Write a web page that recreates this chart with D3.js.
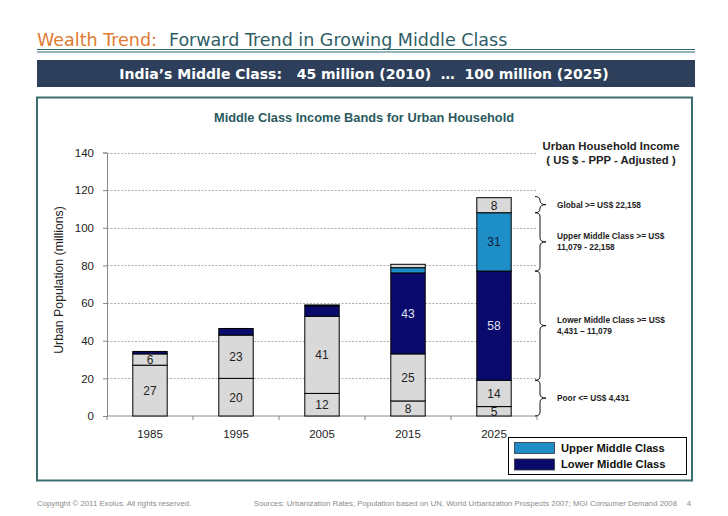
<!DOCTYPE html>
<html><head><meta charset="utf-8">
<script src="https://cdn.jsdelivr.net/npm/d3@7"></script>
<style>body{margin:0;background:#fff}svg{display:block}</style>
</head><body>
<script>
const years = ["1985","1995","2005","2015","2025"];
const poorLow = [27,20,12,8,5];
const poorHigh = [6,23,41,25,14];
const lowerMiddle = [1.3,3.5,5.6,43,58];
const upperMiddle = [0,0,0.4,2.8,31];
const global = [0,0,0,1.8,8];
const yTicks = [0,20,40,60,80,100,120,140];
const seriesKeys = ["poorLow","poorHigh","lowerMiddle","upperMiddle","global"];
const seriesData = {poorLow, poorHigh, lowerMiddle, upperMiddle, global};
const bands = [
  {from:108, to:116.6, lines:["Global >= US$ 22,158"]},
  {from:77, to:108, lines:["Upper Middle Class >= US$","11,079 - 22,158"]},
  {from:19, to:77, lines:["Lower Middle Class >= US$","4,431 \u2013 11,079"]},
  {from:0, to:19, lines:["Poor <= US$ 4,431"]}
];
const legendItems = [["upperMiddle","Upper Middle Class"],["lowerMiddle","Lower Middle Class"]];

const colors = {poorLow:"#D9D9D9", poorHigh:"#D9D9D9", lowerMiddle:"#0A0A6C", upperMiddle:"#1E8EC6", global:"#D9D9D9"};
const textColors = {poorLow:"#222", poorHigh:"#222", lowerMiddle:"#E0E4F0", upperMiddle:"#10183A", global:"#222"};

const W=728,H=516;
const svg=d3.select("body").append("svg").attr("width",W).attr("height",H);
const arial="'Liberation Sans', Arial, sans-serif";
const verd="'DejaVu Sans', Verdana, sans-serif";

// Header
const t=svg.append("text").attr("x",37).attr("y",46).attr("font-family",verd).attr("font-size",17.5);
t.append("tspan").attr("fill","#E07A30").text("Wealth Trend:");
t.append("tspan").attr("fill","#2F5E66").attr("dx",12).text("Forward Trend in Growing Middle Class");
svg.append("line").attr("x1",37).attr("x2",695).attr("y1",49.5).attr("y2",49.5).attr("stroke","#2F6A72").attr("stroke-width",1);
svg.append("line").attr("x1",37).attr("x2",695).attr("y1",52).attr("y2",52).attr("stroke","#2F6A72").attr("stroke-width",1);
svg.append("rect").attr("x",37).attr("y",60).attr("width",658).attr("height",27).attr("fill","#2D3F5A");
svg.append("text").attr("x",364).attr("y",79).attr("text-anchor","middle").attr("fill","#fff")
  .attr("font-family",verd).attr("font-weight","bold").attr("font-size",14)
  .attr("xml:space","preserve").style("white-space","pre")
  .text("India\u2019s Middle Class:   45 million (2010)  \u2026  100 million (2025)");

// Chart box
svg.append("rect").attr("x",37).attr("y",97.5).attr("width",655).attr("height",383).attr("fill","#fff").attr("stroke","#3A6E70").attr("stroke-width",2);
svg.append("text").attr("x",364).attr("y",122).attr("text-anchor","middle").attr("fill","#2A5A5E")
  .attr("font-family",arial).attr("font-weight","bold").attr("font-size",12.8).text("Middle Class Income Bands for Urban Household");

const x=d3.scaleBand().domain(years).range([107,537]).paddingInner(0.6).paddingOuter(0.3);
const y=d3.scaleLinear().domain([0,140]).range([416,152.5]);

// gridlines
svg.append("g").selectAll("line").data(yTicks.filter(d=>d>0)).join("line")
  .attr("x1",107).attr("x2",537).attr("y1",d=>Math.round(y(d))+0.5).attr("y2",d=>Math.round(y(d))+0.5)
  .attr("stroke","#9A9A9A").attr("stroke-width",0.8).attr("stroke-dasharray","2,1.5");

// axes
const ya=svg.append("g").attr("transform","translate(107,0)").call(d3.axisLeft(y).tickValues(yTicks).tickSize(4).tickPadding(9));
ya.select(".domain").attr("stroke","#888");
ya.selectAll(".tick line").attr("stroke","#888");
ya.selectAll("text").attr("font-family",arial).attr("font-size",11.5).attr("fill","#222");

const xa=svg.append("g").attr("transform","translate(0,416)").call(d3.axisBottom(x).tickSize(0).tickPadding(14));
xa.select(".domain").attr("stroke","#888").attr("d","M107,0H537");
xa.selectAll("text").attr("font-family",arial).attr("font-size",11.5).attr("fill","#222");
const bounds=years.map(d=>x(d)-x.step()*x.paddingOuter());
bounds.push(537);
xa.append("g").selectAll("line").data(bounds).join("line").attr("x1",d=>d).attr("x2",d=>d).attr("y1",0).attr("y2",4).attr("stroke","#888");

svg.append("text").attr("transform","translate(63,280) rotate(-90)").attr("text-anchor","middle")
  .attr("font-family",arial).attr("font-size",12.3).attr("fill","#222").text("Urban Population (millions)");

// stacked bars
const table=years.map((yr,i)=>{const o={year:yr};seriesKeys.forEach(k=>o[k]=seriesData[k][i]);return o;});
const stack=d3.stack().keys(seriesKeys)(table);
const g=svg.append("g");
stack.forEach(s=>{
  g.append("g").selectAll("rect").data(s.filter(d=>d[1]-d[0]>0)).join("rect")
    .attr("x",d=>x(d.data.year)).attr("width",x.bandwidth())
    .attr("y",d=>y(d[1])).attr("height",d=>y(d[0])-y(d[1]))
    .attr("fill",colors[s.key]).attr("stroke","#000").attr("stroke-width",1);
  // only the values printed in the reference (whole numbers) are labelled
  g.append("g").selectAll("text").data(s.filter(d=>d[1]-d[0]>=4 && Number.isInteger(d.data[s.key]))).join("text")
    .attr("x",d=>x(d.data.year)+x.bandwidth()/2).attr("y",d=>(y(d[0])+y(d[1]))/2+4.5)
    .attr("text-anchor","middle").attr("font-family",arial).attr("font-size",12).attr("fill",textColors[s.key])
    .text(d=>d.data[s.key]);
});

// right annotation
svg.append("text").attr("x",611).attr("y",150).attr("text-anchor","middle").attr("font-family",arial).attr("font-weight","bold").attr("font-size",11.3).attr("fill","#222").text("Urban Household Income");
svg.append("text").attr("x",611).attr("y",164).attr("text-anchor","middle").attr("font-family",arial).attr("font-weight","bold").attr("font-size",11.3).attr("fill","#222")
  .attr("xml:space","preserve").style("white-space","pre").text("( US $ - PPP - Adjusted )");

function brace(y0,y1){
  const xl=535, xm=540, xr=546, m=(y0+y1)/2, r=4;
  return `M${xl},${y0} Q${xm},${y0} ${xm},${y0+r} L${xm},${m-r} Q${xm},${m} ${xr},${m} Q${xm},${m} ${xm},${m+r} L${xm},${y1-r} Q${xm},${y1} ${xl},${y1}`;
}
const bg=svg.append("g");
bands.forEach(b=>{
  const y0=y(b.to), y1=y(b.from);
  bg.append("path").attr("d",brace(y0,y1)).attr("fill","none").attr("stroke","#111").attr("stroke-width",1);
  const my=(y0+y1)/2;
  const n=b.lines.length;
  b.lines.forEach((ln,i)=>{
    bg.append("text").attr("x",557).attr("y",my+3-(n-1)*5.5+i*11).attr("font-family",arial).attr("font-weight","bold").attr("font-size",8.3).attr("fill","#222").text(ln);
  });
});

// legend
svg.append("rect").attr("x",508.5).attr("y",437.5).attr("width",178).attr("height",37).attr("fill","#fff").attr("stroke","#000").attr("stroke-width",1);
legendItems.forEach(([k,lab],i)=>{
  svg.append("rect").attr("x",514.5).attr("y",442.5+i*16.5).attr("width",40).attr("height",11).attr("fill",colors[k]).attr("stroke","#333").attr("stroke-width",0.8);
  svg.append("text").attr("x",561).attr("y",452+i*16).attr("font-family",arial).attr("font-weight","bold").attr("font-size",11.2).attr("fill","#111").text(lab);
});

// footer
svg.append("text").attr("x",37).attr("y",506).attr("font-family",arial).attr("font-size",7.8).attr("fill","#8A8A8A").text("Copyright \u00A9 2011 Exolus. All rights reserved.");
svg.append("text").attr("x",677).attr("y",506).attr("text-anchor","end").attr("font-family",arial).attr("font-size",7.8).attr("fill","#8A8A8A").text("Sources: Urbanization Rates, Population based on UN, World Urbanization Prospects 2007; MGI Consumer Demand 2008");
svg.append("text").attr("x",691).attr("y",506).attr("text-anchor","end").attr("font-family",arial).attr("font-size",7.8).attr("fill","#8A8A8A").text("4");
</script>
</body></html>
